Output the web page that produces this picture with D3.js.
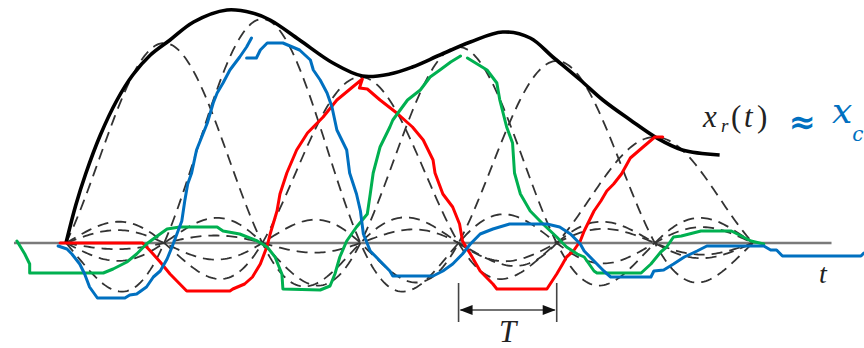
<!DOCTYPE html>
<html>
<head>
<meta charset="utf-8">
<script src="https://cdn.jsdelivr.net/npm/d3@7"></script>
<style>
  body { margin: 0; background: #fff; }
  svg { display: block; }
</style>
</head>
<body>
<div id="chart"></div>
<script>
// Samples x[n] at t = nT (T = 100 time units)
const sampleT = [0, 100, 200, 300, 400, 500, 600, 700];
const sampleV = [0, 100, 112, 83, 98, 91, 53, 0];

// Reconstructed signal x_r(t)
const recon = [[0,0],[10,19],[20,34.5],[35,54],[52,71.5],[68,84],[86,94],[106,101.5],
  [130,110.5],[164,116.5],[190,115],[208,111.5],[238,101.5],[272,90],[302,83.5],
  [330,84.5],[353,88],[381,94],[412,100.5],[445,105.5],[473,102.5],[496,93],[524,81.5],
  [547,71.5],[575,61.5],[602,52.5],[628,46.5],[666,44]];

// hand-drawn traces
const red = [[-6,0],[78,0],[86,-4],[96,-9.5],[106,-15.5],[116,-20.5],[123,-24],[167,-24],
  [170,-23],[182,-20.5],[190,-17],[198,-10.5],[205,-1.5],[208,4.5],[215,16],[218,24.5],
  [225,35],[235,46.5],[246,55],[262,63],[276,71.5],[292,78],[302,82],[299,77.5],[307,77],
  [320,71.5],[337,65],[353,58],[364,51.5],[374,41.5],[376,35],[384,24.5],[394,18],
  [401,9.5],[404,1],[412,-5.5],[422,-14],[435,-20.5],[439,-23],[490,-23],[500,-15.5],
  [506,-10.5],[510,-7],[517,-4],[524,1],[528,6],[538,16],[545,21],[551,26],[558,29.5],
  [566,34.5],[575,42.5],[588,48],[600,53],[608,53]];

const blueRise = [[-8,-1.5],[1,-3],[6,-5.5],[14,-10.5],[19,-15.5],[24,-22],[32,-27.5],
  [60,-27.5],[65,-26],[72,-25.5],[82,-22],[89,-17],[96,-14],[103,-8],[108,-2],[113,4.5],
  [118,11],[121,21],[124,29.5],[128,35],[133,46.5],[144,60],[150,70],[154,75],[160,80],
  [167,86.5],[177,93],[184,98],[189,102.5]];

const blueFall = [[184,92.5],[194,92.5],[198,96.5],[205,100],[221,100],[238,96.5],
  [249,91.5],[252,86.5],[259,81.5],[266,75],[271,68],[276,56.5],[286,46.5],[289,35],
  [296,24.5],[300,16],[303,4.5],[310,-4],[320,-9],[330,-14],[333,-16.5],[374,-16.5],
  [384,-14],[394,-10.5],[404,-5.5],[412,-0.5],[422,4.5],[435,7],[452,9.5],[490,9.5],
  [503,8],[514,4.5],[524,-0.5],[528,-4],[538,-9],[548,-14],[555,-17],[596,-17],[599,-14],
  [609,-13.5],[619,-10.5],[630,-7],[643,-4],[653,-1.5],[711,-1.5],[718,-3.5],[724,-3.5],
  [730,-6.5],[810,-6.5],[813,-5]];

const greenRise = [[-50,1],[-42,-5.5],[-37,-10.5],[-37,-15],[38,-15],[48,-13],[62,-9.5],
  [72,-5.5],[82,-0.5],[93,3.5],[103,7],[116,8],[154,8],[160,6],[177,4.5],[195,1],
  [205,-2],[213,-7],[220,-15.5],[221,-23],[259,-23.5],[269,-21.5],[274,-15.5],[279,-7],
  [286,1],[296,8],[307,14.5],[310,24.5],[313,35],[320,48],[330,58],[333,61.5],[348,71.5],
  [361,76.5],[371,83],[381,86.5],[392,90.5],[402,93.5]];

const greenFall = [[409,92.5],[429,86.5],[439,80],[442,71.5],[449,58],[455,50],[457,35],
  [463,24.5],[473,16],[486,9.5],[500,3],[510,-2],[521,-5.5],[528,-7],[538,-14],[541,-15],
  [586,-15],[596,-10.5],[606,-4.5],[612,-2],[619,3],[627,3.5],[647,6],[678,6],[688,3.5],
  [698,1],[711,-0.5]];

const axisSpan = [-53, 780];

const width = 864, height = 348;
const serif = '"Liberation Serif", "DejaVu Serif", serif';

const svg = d3.select('#chart')
  .append('svg')
  .attr('width', width)
  .attr('height', height);

const x = d3.scaleLinear().domain([0, 700]).range([66, 753]);
const y = d3.scaleLinear().domain([0, 100]).range([243, 43]);

const sinc = u => u === 0 ? 1 : Math.sin(Math.PI * u) / (Math.PI * u);

const line = d3.line()
  .x(d => x(d[0]))
  .y(d => y(d[1]));

// time axis
svg.append('line')
  .attr('x1', x(axisSpan[0]))
  .attr('x2', x(axisSpan[1]))
  .attr('y1', y(0))
  .attr('y2', y(0))
  .attr('stroke', '#7a7a7a')
  .attr('stroke-width', 2.6);

// dashed sinc terms, one per sample
const tGrid = d3.range(0, 700.5, 2);
sampleT.forEach((tn, i) => {
  if (sampleV[i] === 0) return;
  const pts = tGrid.map(t => [t, sampleV[i] * sinc((t - tn) / 100)]);
  svg.append('path')
    .attr('d', line(pts))
    .attr('fill', 'none')
    .attr('stroke', '#333')
    .attr('stroke-width', 1.8)
    .attr('stroke-dasharray', '11,7');
});

// reconstructed signal
svg.append('path')
  .attr('d', line.curve(d3.curveCatmullRom)(recon))
  .attr('fill', 'none')
  .attr('stroke', '#000')
  .attr('stroke-width', 3.6);
line.curve(d3.curveLinear);

// hand-drawn traces
const traces = [
  [red, '#ff0000'],
  [greenRise, '#00b050'],
  [greenFall, '#00b050'],
  [blueRise, '#0070c0'],
  [blueFall, '#0070c0']
];
traces.forEach(([data, color]) => {
  svg.append('path')
    .attr('d', line(data))
    .attr('fill', 'none')
    .attr('stroke', color)
    .attr('stroke-width', 3)
    .attr('stroke-linejoin', 'round')
    .attr('stroke-linecap', 'round');
});

// T marker between samples 4 and 5
const tA = x(sampleT[4]), tB = x(sampleT[5]), yArrow = y(-33.5);
[tA, tB].forEach(px => {
  svg.append('line')
    .attr('x1', px).attr('x2', px)
    .attr('y1', y(-20)).attr('y2', y(-39.5))
    .attr('stroke', '#444').attr('stroke-width', 1.6);
});
svg.append('line')
  .attr('x1', tA + 2).attr('x2', tB - 2)
  .attr('y1', yArrow).attr('y2', yArrow)
  .attr('stroke', '#444').attr('stroke-width', 1.6);
svg.append('path')
  .attr('d', `M${tA + 1},${yArrow} l13,-5 l0,10 Z M${tB - 1},${yArrow} l-13,-5 l0,10 Z`)
  .attr('fill', '#111');

svg.append('text')
  .attr('x', (tA + tB) / 2)
  .attr('y', 342)
  .attr('text-anchor', 'middle')
  .attr('font-family', serif)
  .attr('font-style', 'italic')
  .attr('font-size', 31)
  .attr('fill', '#222')
  .text('T');

svg.append('text')
  .attr('x', 823)
  .attr('y', 283)
  .attr('text-anchor', 'middle')
  .attr('font-family', serif)
  .attr('font-style', 'italic')
  .attr('font-size', 28)
  .attr('fill', '#222')
  .text('t');

// x_r(t) label, glyphs placed one by one like the typeset original
const lbl = svg.append('text')
  .attr('y', 127)
  .attr('font-family', serif)
  .attr('font-size', 31)
  .attr('fill', '#222');
lbl.append('tspan').attr('x', 703).attr('font-style', 'italic').text('x');
lbl.append('tspan').attr('x', 721).attr('dy', 5).attr('font-style', 'italic')
  .attr('font-size', 19).text('r');
lbl.append('tspan').attr('x', 731).attr('dy', -5).text('(');
lbl.append('tspan').attr('x', 744).attr('font-style', 'italic').text('t');
lbl.append('tspan').attr('x', 757).text(')');

// handwritten note
svg.append('text')
  .attr('x', 789)
  .attr('y', 133)
  .attr('font-family', '"DejaVu Sans", sans-serif')
  .attr('font-size', 32)
  .attr('font-weight', 'bold')
  .attr('fill', '#0070c0')
  .text('≈');
const note = svg.append('text')
  .attr('x', 832)
  .attr('y', 123)
  .attr('font-family', '"DejaVu Serif", serif')
  .attr('font-style', 'italic')
  .attr('font-size', 36)
  .attr('fill', '#0070c0');
note.append('tspan').text('x');
note.append('tspan').attr('font-size', 20).attr('dy', 18).text('c');
</script>
</body>
</html>
